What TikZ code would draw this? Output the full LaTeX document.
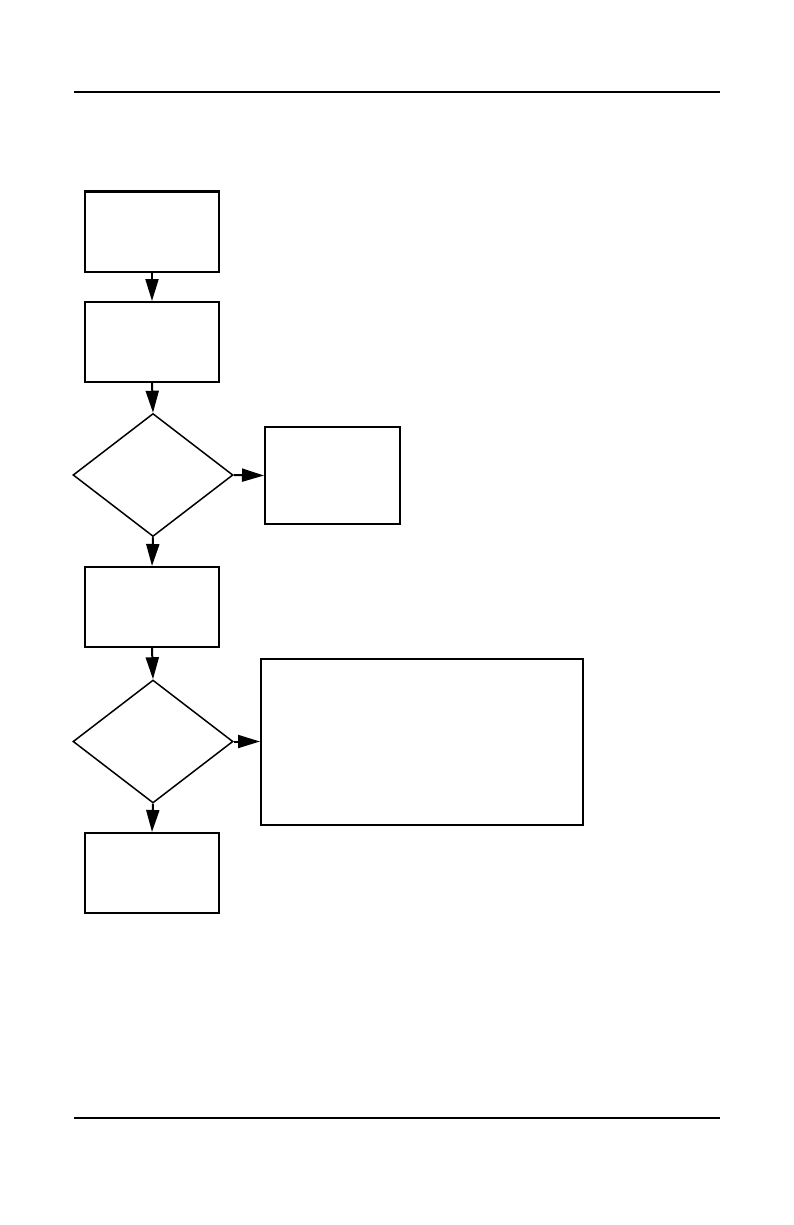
\documentclass[tikz,border=0pt]{standalone}
\usepackage{tikz}
\usetikzlibrary{shapes.geometric, arrows.meta}

\tikzset{
  stepbox/.style = {draw, line width=2pt, inner sep=0pt, minimum width=134pt, minimum height=80pt},
  choice/.style = {draw, diamond, line width=1.5pt, inner sep=0pt, minimum width=160pt, minimum height=123pt},
  flow/.style = {line width=2pt, -{Triangle[length=22pt, width=13pt]}}
}

\begin{document}
\begin{tikzpicture}[x=1pt, y=-1pt]
\useasboundingbox (0,0) rectangle (793,1225);
\draw[line width=1.6pt] (74,92)--(720,92);
\draw[line width=1.6pt] (74,1118)--(720,1118);
\node[stepbox] (start) at (152,231.5) {};
\node[stepbox] (check) at (152,342) {};
\node[choice] (firstq) at (153,475) {};
\node[stepbox, minimum width=135pt, minimum height=97pt] (fixa) at (332.5,475.5) {};
\node[stepbox] (retry) at (152,607) {};
\node[choice] (secondq) at (153,741.5) {};
\node[stepbox, minimum width=322pt, minimum height=166pt] (fixb) at (422,741.5) {};
\node[stepbox] (done) at (152,873) {};
\draw[flow] (start.south) -- (check.north);
\draw[flow] (check.south) -- (firstq.north);
\draw[flow] (firstq.east) -- (fixa.west);
\draw[flow] (firstq.south) -- (retry.north);
\draw[flow] (retry.south) -- (secondq.north);
\draw[flow] (secondq.east) -- (fixb.west);
\draw[flow] (secondq.south) -- (done.north);
\end{tikzpicture}
\end{document}
